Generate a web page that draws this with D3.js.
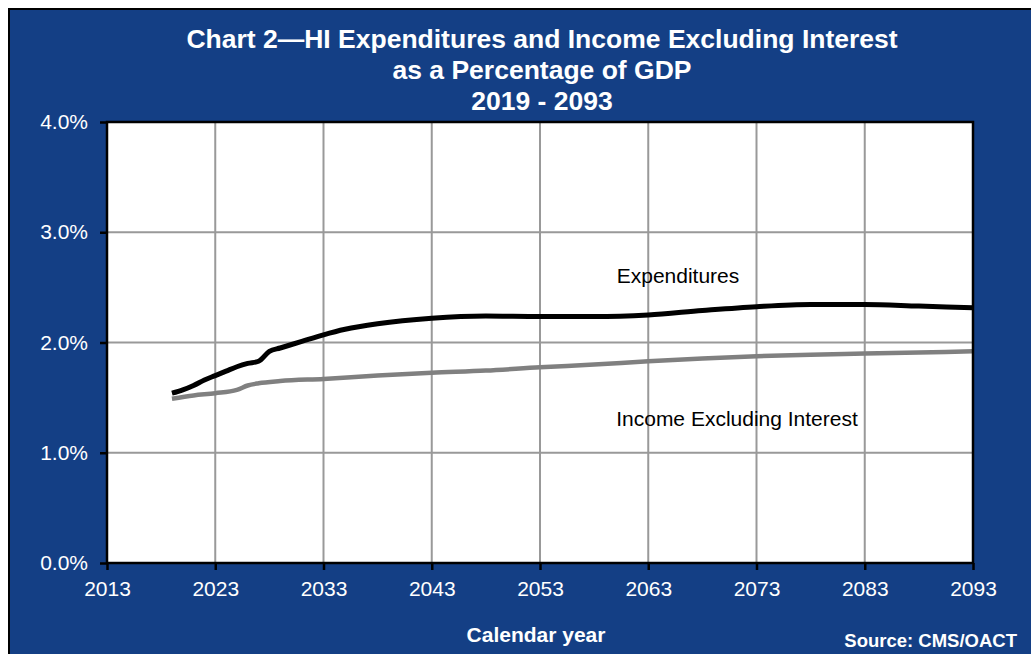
<!DOCTYPE html>
<html lang="en">
<head>
    <meta charset="UTF-8">
    <title>Chart 2</title>
    <style type="text/css">
        * {
            margin: 0;
            padding: 0;
        }
        body { background: white; }
        text { font-family: "Liberation Sans", Arial, sans-serif; }
    </style>
</head>
<body>
<div id="chart-area"></div>
<script src="https://cdn.jsdelivr.net/npm/d3@7"></script>
<script type="text/javascript">
    const titleLines = ['Chart 2\u2014HI Expenditures and Income Excluding Interest', 'as a Percentage of GDP', '2019 - 2093']
    const xTicks = [2013, 2023, 2033, 2043, 2053, 2063, 2073, 2083, 2093]
    const yTicks = [0, 1, 2, 3, 4]

    const expYears = [2019, 2020, 2021, 2022, 2023, 2024, 2025, 2026, 2027, 2028, 2029, 2031, 2033, 2035, 2038, 2043, 2048, 2053, 2058, 2063, 2068, 2073, 2078, 2083, 2088, 2093]
    const expValues = [1.54, 1.57, 1.61, 1.66, 1.70, 1.74, 1.78, 1.81, 1.83, 1.92, 1.95, 2.01, 2.07, 2.12, 2.17, 2.22, 2.24, 2.235, 2.235, 2.25, 2.29, 2.325, 2.345, 2.345, 2.33, 2.315]

    const incYears = [2019, 2021, 2023, 2025, 2026, 2027, 2029, 2033, 2038, 2043, 2048, 2053, 2058, 2063, 2068, 2073, 2078, 2083, 2088, 2093]
    const incValues = [1.49, 1.52, 1.54, 1.57, 1.61, 1.63, 1.65, 1.67, 1.70, 1.725, 1.745, 1.775, 1.80, 1.83, 1.855, 1.875, 1.89, 1.90, 1.91, 1.92]

    const W = 1031, H = 654
    const plotL = 107, plotR = 973, plotT = 122, plotB = 563

    const svg = d3.select('#chart-area').append('svg')
    .attr('width', W)
    .attr('height', H)

    // blue panel with black frame (runs off the bottom/right)
    svg.append('rect')
    .attr('x', 9).attr('y', 9)
    .attr('width', W + 10).attr('height', H + 10)
    .attr('fill', '#143f85')
    .attr('stroke', 'black')
    .attr('stroke-width', 2)

    const x = d3.scaleLinear().domain([2013, 2093]).range([plotL, plotR])
    const y = d3.scaleLinear().domain([0, 4]).range([plotB, plotT])

    svg.append('rect')
    .attr('x', plotL).attr('y', plotT)
    .attr('width', plotR - plotL).attr('height', plotB - plotT)
    .attr('fill', 'white')

    // grid
    svg.append('g').selectAll('line').data(xTicks.slice(1, -1)).join('line')
    .attr('x1', d => x(d)).attr('x2', d => x(d))
    .attr('y1', plotT).attr('y2', plotB)
    .attr('stroke', '#999').attr('stroke-width', 2)
    svg.append('g').selectAll('line').data(yTicks.slice(1, -1)).join('line')
    .attr('x1', plotL).attr('x2', plotR)
    .attr('y1', d => y(d)).attr('y2', d => y(d))
    .attr('stroke', '#999').attr('stroke-width', 2)

    // lines
    const line = d3.line().curve(d3.curveMonotoneX)
    svg.append('path')
    .attr('d', line(incYears.map((yr, i) => [x(yr), y(incValues[i])])))
    .attr('fill', 'none').attr('stroke', '#808080').attr('stroke-width', 4.5)
    svg.append('path')
    .attr('d', line(expYears.map((yr, i) => [x(yr), y(expValues[i])])))
    .attr('fill', 'none').attr('stroke', 'black').attr('stroke-width', 5)

    // plot frame
    svg.append('rect')
    .attr('x', plotL).attr('y', plotT)
    .attr('width', plotR - plotL).attr('height', plotB - plotT)
    .attr('fill', 'none').attr('stroke', 'black').attr('stroke-width', 2.5)

    // axes
    const xAxis = svg.append('g')
    .attr('transform', `translate(0,${plotB})`)
    .call(d3.axisBottom(x).tickValues(xTicks).tickFormat(d3.format('d')).tickSize(7).tickSizeOuter(0))
    const yAxis = svg.append('g')
    .attr('transform', `translate(${plotL},0)`)
    .call(d3.axisLeft(y).tickValues(yTicks).tickFormat(d => d.toFixed(1) + '%').tickSize(7).tickSizeOuter(0))

    ;[xAxis, yAxis].forEach(g => {
      g.select('.domain').remove()
      g.selectAll('.tick line').attr('stroke', 'black').attr('stroke-width', 2.5)
      g.selectAll('.tick text')
      .attr('fill', 'white')
      .style('font-family', '"Liberation Sans", Arial, sans-serif')
      .style('font-size', '21px')
    })
    xAxis.selectAll('.tick text').attr('dy', '0').attr('y', 33)
    yAxis.selectAll('.tick text').attr('x', -19)

    // title
    svg.append('g').selectAll('text').data(titleLines).join('text')
    .attr('x', 542)
    .attr('y', (d, i) => 48 + i * 31)
    .attr('text-anchor', 'middle')
    .attr('fill', 'white')
    .style('font-weight', 'bold')
    .style('font-size', '26.5px')
    .text(d => d)

    svg.append('text')
    .attr('x', 536).attr('y', 642)
    .attr('text-anchor', 'middle')
    .attr('fill', 'white')
    .style('font-weight', 'bold')
    .style('font-size', '21px')
    .text('Calendar year')

    svg.append('text')
    .attr('x', 1017).attr('y', 647)
    .attr('text-anchor', 'end')
    .attr('fill', 'white')
    .style('font-weight', 'bold')
    .style('font-size', '18.5px')
    .text('Source: CMS/OACT')

    // series labels
    svg.append('text')
    .attr('x', 678).attr('y', 283)
    .attr('text-anchor', 'middle')
    .style('font-size', '21px')
    .text('Expenditures')
    svg.append('text')
    .attr('x', 737).attr('y', 426)
    .attr('text-anchor', 'middle')
    .style('font-size', '21px')
    .text('Income Excluding Interest')
</script>
</body>
</html>
